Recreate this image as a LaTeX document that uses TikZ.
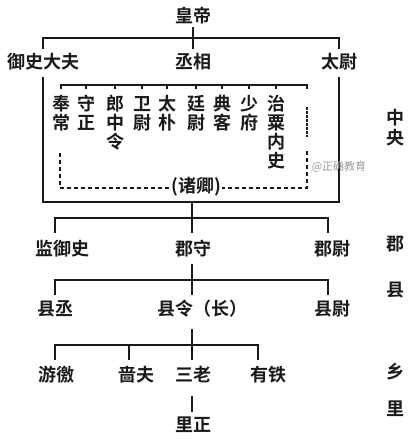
\documentclass[tikz,border=0pt]{standalone}
\usepackage{fontspec}
\newfontfamily\cjk{Noto Sans CJK SC}[BoldFont={Noto Sans CJK SC Bold}]
\definecolor{ink}{HTML}{1A1A1A}
\tikzset{
  ln/.style={line width=1.8pt, draw=ink, line cap=rect},
  thinln/.style={line width=1.4pt, draw=ink},
  lab/.style={font=\cjk\bfseries\fontsize{18}{18}\selectfont, text=ink, inner sep=0pt, outer sep=0pt, text height=15.84pt, text depth=2.16pt},
  vch/.style={font=\cjk\bfseries\fontsize{18}{18}\selectfont, text=ink, inner sep=0pt, outer sep=0pt, text height=15.84pt, text depth=2.16pt},
  side/.style={font=\cjk\bfseries\fontsize{18}{18}\selectfont, text=ink, inner sep=0pt, text height=15.84pt, text depth=2.16pt},
  dashln/.style={line width=1.9pt, draw=ink, dash pattern=on 4pt off 3pt},
  dotln/.style={line width=2.6pt, draw=ink, dash pattern=on 2.6pt off 1.4pt},
  wm/.style={font=\cjk\fontsize{11}{11}\selectfont, text=black!40, inner sep=0pt}
}
\newcommand\vcol[3]{%
  \foreach \c [count=\i] in {#3} {\node[vch] (#1-\i) at (#2,{104+19*(\i-1)}) {\c};}}
\begin{document}
\begin{tikzpicture}[x=1pt,y=-1pt]
\useasboundingbox (0,0) rectangle (409,439);
% top
\node[lab] (hd) at (193,16) {皇帝};
\node[lab] (ys) at (43,62) {御史大夫};
\node[lab] (cx) at (193,62) {丞相};
\node[lab] (tw) at (339,62) {太尉};
\coordinate (b1) at (193,38);
\coordinate (b1e) at (193,48);
\coordinate (bxt) at (0,78);
\coordinate (bx) at (192,202);
\draw[ln] (hd.south) ++(0,3) -- (b1e);
\draw[ln] (ys.north |- b1e) -- (ys.north |- b1) -- (tw.north |- b1) -- (tw.north |- b1e);
\draw[ln] (ys.south |- bxt) -- (ys.south |- bx) -- (tw.south |- bx) -- (tw.south |- bxt);
% columns
\vcol{k1}{61}{奉,常}
\vcol{k2}{86}{守,正}
\vcol{k3}{115}{郎,中,令}
\vcol{k4}{142}{卫,尉}
\vcol{k5}{167}{太,朴}
\vcol{k6}{196}{廷,尉}
\vcol{k7}{222}{典,客}
\vcol{k8}{249}{少,府}
\vcol{k9}{276}{治,粟,内,史}
\coordinate (ib) at (0,85);
\coordinate (it) at (0,89);
\coordinate (dr) at (307,89);
\draw[thinln] (k1-1.north |- it) -- (k1-1.north |- ib) -- (dr |- ib) -- (dr);
\foreach \k in {k2,k3,k4,k5,k6,k7,k8,k9} {\draw[thinln] (\k-1.north |- ib) -- (\k-1.north |- it);}
% dashed frame
\coordinate (dtop) at (307,107);
\coordinate (dmid) at (307,137);
\coordinate (dlo) at (307,151);
\coordinate (dbl) at (60,188);
\coordinate (dlt) at (60,152);
\draw[dotln] (dtop) -- (dmid);
\draw[dashln] (dlo) -- (dlo |- dbl) -- (dbl) -- (dlt);
\node[lab, fill=white, inner xsep=1pt] (zq) at (196,186) {(诸卿)};
\node[wm] (wm) at (339,167) {@正确教育};
% jun
\node[lab] (jys) at (62,249) {监御史};
\node[lab] (js) at (193,249) {郡守};
\node[lab] (jw) at (332,249) {郡尉};
\coordinate (b2) at (192,218);
\coordinate (b2e) at (192,232);
\coordinate (b2l) at (55,232);
\coordinate (b2r) at (328,232);
\draw[ln] (bx) -- (b2e);
\draw[ln] (b2l) -- (b2l |- b2) -- (b2r |- b2) -- (b2r);
% xian
\node[lab] (xc) at (55,309) {县丞};
\node[lab] (xl) at (202,309) {县令（长）};
\node[lab] (xw) at (332,309) {县尉};
\coordinate (b3t) at (192,265);
\coordinate (b3) at (192,280);
\coordinate (b3e) at (192,294);
\coordinate (b3l) at (55,294);
\coordinate (b3r) at (328,294);
\draw[ln] (b3t) -- (b3e);
\draw[ln] (b3l) -- (b3l |- b3) -- (b3r |- b3) -- (b3r);
% xiang
\node[lab] (yj) at (56,375) {游徼};
\node[lab] (sf) at (136,375) {啬夫};
\node[lab] (sl) at (193,375) {三老};
\node[lab] (yt) at (268,375) {有铁};
\node[lab] (lz) at (193,425) {里正};
\coordinate (b4t) at (192,330);
\coordinate (b4) at (192,345);
\coordinate (b4e) at (192,359);
\coordinate (b4l) at (55,359);
\coordinate (b4m) at (129,359);
\coordinate (b4r) at (258,359);
\draw[ln] (b4t) -- (b4e);
\draw[ln] (b4l) -- (b4l |- b4) -- (b4r |- b4) -- (b4r);
\draw[ln] (b4m |- b4) -- (b4m);
\coordinate (l1) at (192,397);
\coordinate (l2) at (192,411);
\draw[ln] (l1) -- (l2);
% side labels
\node[side] (s1) at (395,118) {中};
\node[side] (s2) at (395,138) {央};
\node[side] (s3) at (395,244) {郡};
\node[side] (s4) at (395,290) {县};
\node[side] (s5) at (395,372) {乡};
\node[side] (s6) at (395,409) {里};
\end{tikzpicture}
\end{document}
